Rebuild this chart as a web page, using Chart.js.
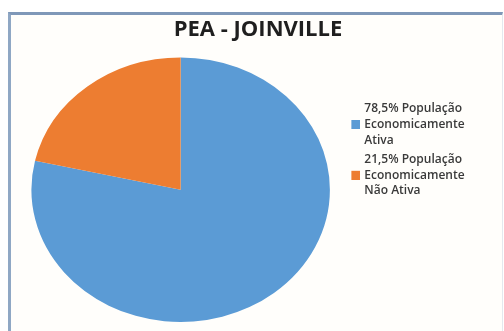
<!DOCTYPE html>
<html>
<head>
<meta charset="utf-8">
<script src="https://cdn.jsdelivr.net/npm/chart.js@4"></script>
<style>
  html, body { margin: 0; padding: 0; background: #ffffff; width: 504px; height: 331px; overflow: hidden; }
  #frame {
    position: absolute; left: 8px; top: 12px; width: 491px; height: 330px;
    border-left: 3px solid #8fa7c4; border-top: 3px solid #7f98b8; border-right: 1px solid #e4e8ee;
    background: #fffefb;
  }
  #chart { position: absolute; left: 0; top: 0; }
</style>
</head>
<body>
<div id="frame"></div>
<canvas id="chart" width="504" height="331"></canvas>
<script>
// ========= data =========
const chartTitle = "PEA - JOINVILLE";
const sliceLabels = [
  ["78,5% População", "Economicamente", "Ativa"],
  ["21,5% População", "Economicamente", "Não Ativa"]
];
const sliceValues = [78.5, 21.5];
const sliceColors = ["#5b9bd5", "#ed7d31"];

// pie in the picture is a bit wider than tall
const stretchX = 1.128;

const legendFontSize = 12;
const legendLineHeight = 1.3;

// legend marker: small square that sits next to the middle text line
function makeMarker(color) {
  const lh = legendFontSize * legendLineHeight;
  const c = document.createElement("canvas");
  c.width = 41;
  c.height = Math.round(2 * lh + 9);
  const g = c.getContext("2d");
  g.fillStyle = color;
  g.fillRect(c.width - 9, c.height - 9, 9, 9);
  return c;
}

const stretchPlugin = {
  id: "stretch",
  beforeDatasetsDraw(chart) {
    const { ctx, chartArea } = chart;
    const cx = (chartArea.left + chartArea.right) / 2;
    ctx.save();
    ctx.translate(cx, 0);
    ctx.scale(stretchX, 1);
    ctx.translate(-cx, 0);
  },
  afterDatasetsDraw(chart) {
    chart.ctx.restore();
  }
};

const ctx = document.getElementById("chart").getContext("2d");
new Chart(ctx, {
  type: "pie",
  data: {
    labels: sliceLabels,
    datasets: [{ data: sliceValues, backgroundColor: sliceColors, borderWidth: 0 }]
  },
  options: {
    responsive: false,
    animation: false,
    layout: { padding: { left: 44, right: 32, top: 0, bottom: 9 } },
    plugins: {
      title: {
        display: true,
        text: chartTitle,
        color: "#1f1f1f",
        font: { family: "'Open Sans', sans-serif", size: 22, weight: "bold" },
        padding: { top: 17, bottom: 14 }
      },
      legend: {
        position: "right",
        align: "start",
        title: { display: true, text: " ", font: { size: 10 }, padding: { top: 87, bottom: 0 } },
        labels: {
          color: "#3a3a3a",
          font: { family: "'Open Sans', sans-serif", size: legendFontSize, weight: "600", lineHeight: legendLineHeight },
          usePointStyle: true,
          pointStyleWidth: 37,
          padding: 4,
          generateLabels(chart) {
            const ds = chart.data.datasets[0];
            return chart.data.labels.map((text, i) => ({
              text,
              fillStyle: ds.backgroundColor[i],
              strokeStyle: ds.backgroundColor[i],
              lineWidth: 0,
              fontColor: "#3a3a3a",
              pointStyle: makeMarker(ds.backgroundColor[i]),
              hidden: false,
              index: i
            }));
          }
        }
      },
      tooltip: { enabled: false }
    }
  },
  plugins: [stretchPlugin]
});
</script>
</body>
</html>
